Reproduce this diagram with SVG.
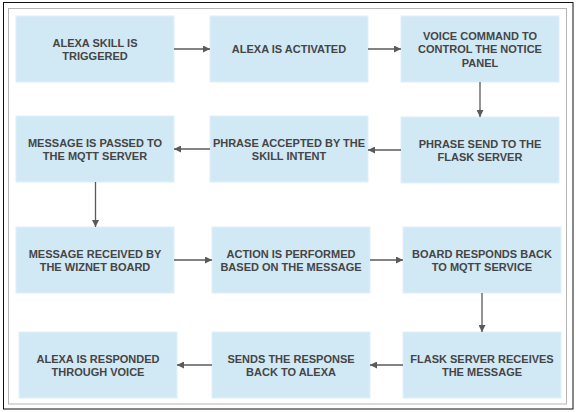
<svg xmlns="http://www.w3.org/2000/svg" width="576" height="412" viewBox="0 0 576 412">
<style>
.box{fill:#d1e8f5;stroke:#e2f0f9;stroke-width:1}
.t{font-family:"Liberation Sans",Arial,sans-serif;font-weight:bold;font-size:11px;fill:#454545;text-anchor:middle}
.c{stroke:#5a5a5a;stroke-width:1.3;fill:none;marker-end:url(#ah)}
</style>
<defs>
<marker id="ah" viewBox="0 0 10 10" refX="10" refY="5" markerWidth="7" markerHeight="7" markerUnits="userSpaceOnUse" orient="auto">
<path d="M0,0 L10,5 L0,10 z" fill="#5a5a5a"/>
</marker>
</defs>
<rect x="0" y="0" width="576" height="412" fill="#ffffff"/>
<rect x="3.5" y="2.5" width="569.5" height="406.5" fill="none" stroke="#111" stroke-width="1"/>
<rect x="8.5" y="8.5" width="558" height="395.5" fill="none" stroke="#b5b5b5" stroke-width="1"/>
<g id="n1"><rect class="box" x="16" y="16" width="158" height="66"/><text class="t" x="95" y="46.5">ALEXA SKILL IS</text><text class="t" x="95" y="60">TRIGGERED</text></g>
<g id="n2"><rect class="box" x="210" y="16" width="158" height="66"/><text class="t" x="289" y="53.3">ALEXA IS ACTIVATED</text></g>
<g id="n3"><rect class="box" x="401" y="16" width="158" height="66"/><text class="t" x="480" y="40">VOICE COMMAND TO</text><text class="t" x="480" y="53.3">CONTROL THE NOTICE</text><text class="t" x="480" y="66.6">PANEL</text></g>
<g id="n4"><rect class="box" x="16" y="116" width="158" height="66"/><text class="t" x="95" y="146.5">MESSAGE IS PASSED TO</text><text class="t" x="95" y="160">THE MQTT SERVER</text></g>
<g id="n5"><rect class="box" x="210" y="116" width="158" height="66"/><text class="t" x="289" y="146.5">PHRASE ACCEPTED BY THE</text><text class="t" x="289" y="160">SKILL INTENT</text></g>
<g id="n6"><rect class="box" x="401" y="117" width="158" height="66"/><text class="t" x="480" y="147.5">PHRASE SEND TO THE</text><text class="t" x="480" y="161">FLASK SERVER</text></g>
<g id="n7"><rect class="box" x="16" y="227" width="158" height="66"/><text class="t" x="95" y="257.5">MESSAGE RECEIVED BY</text><text class="t" x="95" y="271">THE WIZNET BOARD</text></g>
<g id="n8"><rect class="box" x="212" y="227" width="158" height="66"/><text class="t" x="291" y="257.5">ACTION IS PERFORMED</text><text class="t" x="291" y="271">BASED ON THE MESSAGE</text></g>
<g id="n9"><rect class="box" x="403" y="227" width="158" height="66"/><text class="t" x="482" y="257.5">BOARD RESPONDS BACK</text><text class="t" x="482" y="271">TO MQTT SERVICE</text></g>
<g id="n10"><rect class="box" x="19" y="332" width="158" height="66"/><text class="t" x="98" y="362.5">ALEXA IS RESPONDED</text><text class="t" x="98" y="376">THROUGH VOICE</text></g>
<g id="n11"><rect class="box" x="212" y="332" width="158" height="66"/><text class="t" x="291" y="362.5">SENDS THE RESPONSE</text><text class="t" x="291" y="376">BACK TO ALEXA</text></g>
<g id="n12"><rect class="box" x="403" y="332" width="158" height="66"/><text class="t" x="482" y="362.5">FLASK SERVER RECEIVES</text><text class="t" x="482" y="376">THE MESSAGE</text></g>
<g id="connectors">
<line class="c" x1="174" y1="49" x2="210" y2="49"/>
<line class="c" x1="368" y1="49" x2="401" y2="49"/>
<line class="c" x1="480" y1="82" x2="480" y2="117"/>
<line class="c" x1="401" y1="150" x2="368" y2="150"/>
<line class="c" x1="210" y1="149" x2="174" y2="149"/>
<line class="c" x1="95.5" y1="182" x2="95.5" y2="227"/>
<line class="c" x1="174" y1="260" x2="212" y2="260"/>
<line class="c" x1="370" y1="260" x2="403" y2="260"/>
<line class="c" x1="482" y1="293" x2="482" y2="332"/>
<line class="c" x1="403" y1="365" x2="370" y2="365"/>
<line class="c" x1="212" y1="365" x2="177" y2="365"/>
</g>
</svg>
